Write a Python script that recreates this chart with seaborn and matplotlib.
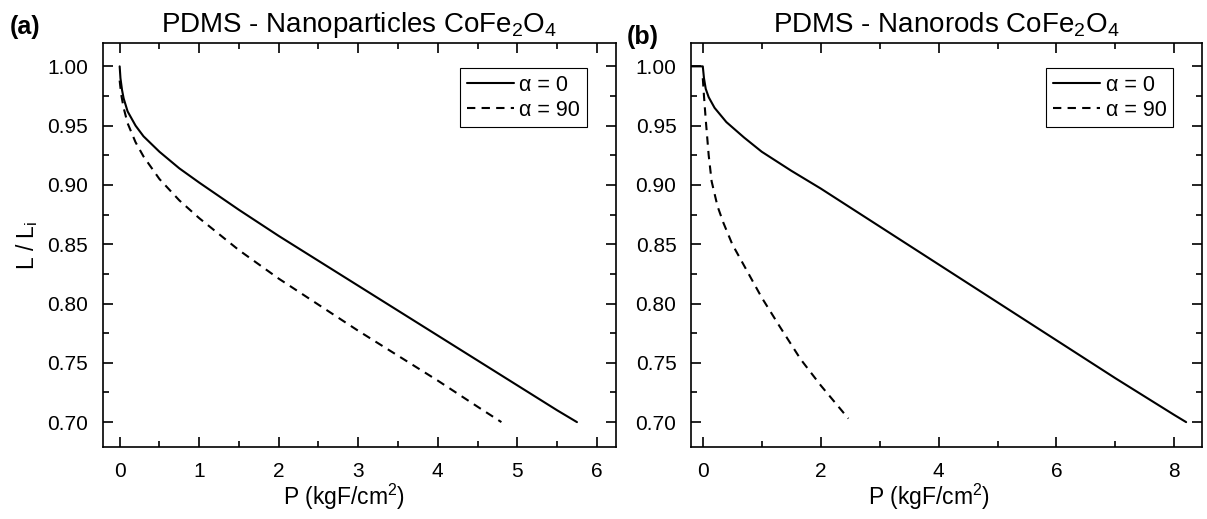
import numpy as np
import pandas as pd
import seaborn as sns
import matplotlib.pyplot as plt
from matplotlib.ticker import MultipleLocator

# (a) PDMS - nanoparticles
p_np_0 = [0.0, 0.01, 0.03, 0.05, 0.1, 0.2, 0.3, 0.5, 0.75, 1.0, 1.5, 2.0, 2.5,
          3.0, 3.5, 4.0, 4.5, 5.0, 5.5, 5.75]
l_np_0 = [1.000, 0.990, 0.980, 0.973, 0.962, 0.950, 0.941, 0.928, 0.914, 0.902,
          0.879, 0.857, 0.836, 0.815, 0.794, 0.773, 0.752, 0.731, 0.710, 0.700]
p_np_90 = [0.0, 0.02, 0.05, 0.1, 0.2, 0.3, 0.5, 0.75, 1.0, 1.5, 2.0, 2.5, 3.0,
           3.5, 4.0, 4.5, 4.8]
l_np_90 = [0.988, 0.976, 0.965, 0.952, 0.936, 0.924, 0.905, 0.887, 0.872, 0.845,
           0.821, 0.799, 0.777, 0.756, 0.735, 0.713, 0.700]

# (b) PDMS - nanorods
p_nr_0 = [-0.19, 0.0, 0.02, 0.05, 0.1, 0.2, 0.4, 0.7, 1.0, 1.5, 2.0, 3.0, 4.0,
          5.0, 6.0, 7.0, 8.0, 8.2]
l_nr_0 = [1.000, 1.000, 0.990, 0.981, 0.974, 0.965, 0.953, 0.940, 0.928, 0.912,
          0.897, 0.865, 0.833, 0.801, 0.769, 0.737, 0.706, 0.700]
p_nr_90 = [0.0, 0.02, 0.05, 0.1, 0.15, 0.25, 0.35, 0.5, 0.7, 1.0, 1.3, 1.66,
           2.0, 2.47]
l_nr_90 = [0.990, 0.975, 0.955, 0.925, 0.903, 0.882, 0.868, 0.850, 0.832, 0.805,
           0.781, 0.753, 0.731, 0.703]

labels = ["\u03b1 = 0", "\u03b1 = 90"]
titles = ["PDMS - Nanoparticles CoFe$_2$O$_4$", "PDMS - Nanorods CoFe$_2$O$_4$"]
panel_tags = ["(a)", "(b)"]

sns.set_theme(style="ticks")
plt.rcParams["font.family"] = ["Liberation Sans", "DejaVu Sans"]
plt.rcParams["mathtext.default"] = "regular"
plt.rcParams["axes.linewidth"] = 1.2
for key in ["text.color", "axes.labelcolor", "xtick.color", "ytick.color",
            "axes.edgecolor"]:
    plt.rcParams[key] = "black"


def make_df(p0, l0, p90, l90):
    d0 = pd.DataFrame({"P": p0, "L": l0, "angle": labels[0]})
    d90 = pd.DataFrame({"P": p90, "L": l90, "angle": labels[1]})
    return pd.concat([d0, d90], ignore_index=True)


data = [make_df(p_np_0, l_np_0, p_np_90, l_np_90),
        make_df(p_nr_0, l_nr_0, p_nr_90, l_nr_90)]

fig = plt.figure(figsize=(12.07, 5.19), dpi=100)
axes = [fig.add_axes([0.0853, 0.1387, 0.425, 0.778]),
        fig.add_axes([0.5725, 0.1387, 0.4234, 0.778])]
xlims = [(-0.21, 6.24), (-0.2, 8.47)]
xmajor = [1, 2]
xlabel_x = [0.47, 0.466]

for i, ax in enumerate(axes):
    sns.lineplot(data=data[i], x="P", y="L", hue="angle", style="angle",
                 palette=["black", "black"], dashes=[(None, None), (4, 3)],
                 linewidth=1.5, sort=False, estimator=None, ax=ax)
    ax.set_xlim(*xlims[i])
    ax.set_ylim(0.679, 1.0195)
    ax.xaxis.set_major_locator(MultipleLocator(xmajor[i]))
    ax.xaxis.set_minor_locator(MultipleLocator(xmajor[i] / 2))
    ax.yaxis.set_major_locator(MultipleLocator(0.05))
    ax.yaxis.set_minor_locator(MultipleLocator(0.025))
    ax.yaxis.set_major_formatter(plt.FormatStrFormatter("%.2f"))
    ax.tick_params(which="both", direction="in", top=True, right=True,
                   width=1.2, labelsize=15, pad=10.5)
    ax.tick_params(which="major", length=7)
    ax.tick_params(which="minor", length=4)
    ax.set_xlabel("P (kgF/cm$^2$)", fontsize=16.5)
    ax.xaxis.set_label_coords(xlabel_x[i], -0.085)
    ax.set_ylabel("")
    ax.set_title(titles[i], fontsize=20, pad=8)
    leg = ax.legend(loc="upper right", bbox_to_anchor=(0.943, 0.938),
                    borderaxespad=0, fontsize=15.5, handlelength=2.2,
                    handletextpad=0.25, fancybox=False, framealpha=1,
                    edgecolor="black", borderpad=0.3, labelspacing=0.2)
    leg.get_frame().set_linewidth(0.8)
    for line in leg.get_lines():
        line.set_linewidth(1.5)

axes[0].set_ylabel("L / L$_i$", fontsize=16.5)
axes[0].yaxis.set_label_coords(-0.123, 0.5)

fig.text(0.008, 0.935, panel_tags[0], fontsize=18, fontweight="bold")
fig.text(0.519, 0.915, panel_tags[1], fontsize=18, fontweight="bold")

fig.savefig("out.png", dpi=100)
